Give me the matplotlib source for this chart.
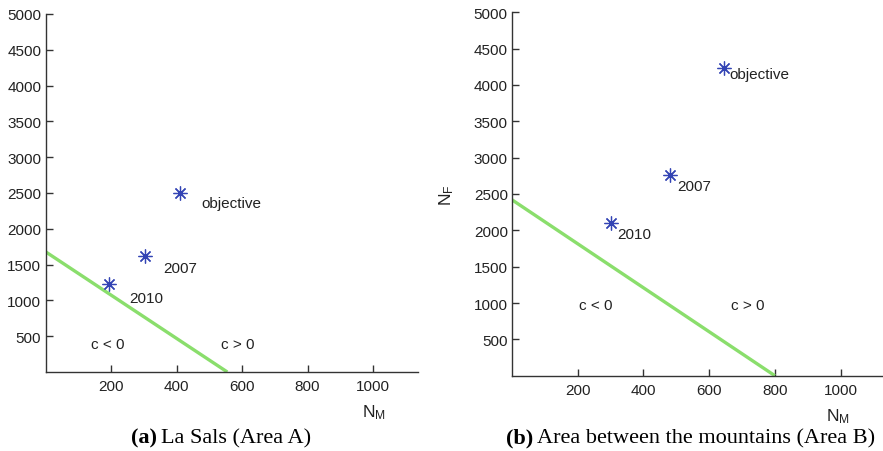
import matplotlib
matplotlib.use("Agg")
import matplotlib.pyplot as plt

plt.rcParams['font.family'] = ['Liberation Sans', 'DejaVu Sans']
plt.rcParams['mathtext.fontset'] = 'custom'
plt.rcParams['mathtext.rm'] = 'Liberation Sans'
plt.rcParams['mathtext.it'] = 'Liberation Sans'

# --- data ---
labels = ['objective', '2007', '2010']

a_nm = [410, 305, 195]
a_nf = [2500, 1620, 1230]
a_line_x = [0, 555]
a_line_y = [1680, 0]
a_lab_x = [475, 359, 255]
a_lab_y = [2360, 1450, 1033]
a_region_x = [139, 536]
a_region_y = [391, 391]

b_nm = [645, 480, 302]
b_nf = [4230, 2760, 2100]
b_line_x = [0, 800]
b_line_y = [2420, 0]
b_lab_x = [661, 502, 320]
b_lab_y = [4156, 2613, 1952]
b_region_x = [204, 667]
b_region_y = [974, 974]

region_text = ['c < 0', 'c > 0']
xticks = [200, 400, 600, 800, 1000]
yticks = [500, 1000, 1500, 2000, 2500, 3000, 3500, 4000, 4500, 5000]

W, H = 883, 452
fig = plt.figure(figsize=(W / 100, H / 100), dpi=100)

def panel(rect, xmax, nm, nf, lx, ly, labx, laby, rx, ry, ylabel):
    ax = fig.add_axes(rect)
    ax.plot(lx, ly, color='#8ade6c', lw=2.4, solid_capstyle='butt')
    ax.plot(nm, nf, ls='none', marker=(8, 2, 0), ms=10, mew=0.9,
            color='#3344b4')
    for t, x, y in zip(labels, labx, laby):
        ax.text(x, y, t, fontsize=11, ha='left', va='center', color='#222222')
    for t, x, y in zip(region_text, rx, ry):
        ax.text(x, y, t, fontsize=11, ha='left', va='center', color='#222222')
    ax.set_xlim(0, xmax)
    ax.set_ylim(0, 5000)
    ax.set_xticks(xticks)
    ax.set_yticks(yticks)
    ax.spines['top'].set_visible(False)
    ax.spines['right'].set_visible(False)
    for s in ('left', 'bottom'):
        ax.spines[s].set_color('#333333')
        ax.spines[s].set_linewidth(1.0)
    ax.tick_params(direction='in', length=5, width=1.0, color='#333333',
                   labelsize=11, labelcolor='#222222')
    ax.tick_params(axis='x', pad=5)
    ax.tick_params(axis='y', pad=3)
    ax.set_xlabel('N$_{\\rm M}$', fontsize=12.5, color='#222222')
    ax.xaxis.set_label_coords(0.882, -0.085)
    if ylabel:
        ax.set_ylabel('N$_{\\rm F}$', fontsize=12.5, color='#222222')
        ax.yaxis.set_label_coords(-0.15, 0.5)
    return ax

panel([45.5 / W, 1 - 373 / H, 372.5 / W, 358 / H], 1137,
      a_nm, a_nf, a_line_x, a_line_y, a_lab_x, a_lab_y,
      a_region_x, a_region_y, False)
panel([512 / W, 1 - 376.7 / H, 370 / W, 363.4 / H], 1126,
      b_nm, b_nf, b_line_x, b_line_y, b_lab_x, b_lab_y,
      b_region_x, b_region_y, True)

serif = ['Liberation Serif', 'DejaVu Serif']
fig.text(157 / W, 1 - 443 / H, '(a)', fontsize=16, fontweight='bold',
         family=serif, ha='right', va='baseline')
fig.text(161 / W, 1 - 443 / H, 'La Sals (Area A)', fontsize=16,
         family=serif, ha='left', va='baseline')
fig.text(533 / W, 1 - 443 / H, '(b)', fontsize=16, fontweight='bold',
         family=serif, ha='right', va='baseline')
fig.text(537 / W, 1 - 443 / H, 'Area between the mountains (Area B)',
         fontsize=16, family=serif, ha='left', va='baseline')

fig.savefig('out.png', dpi=100)
